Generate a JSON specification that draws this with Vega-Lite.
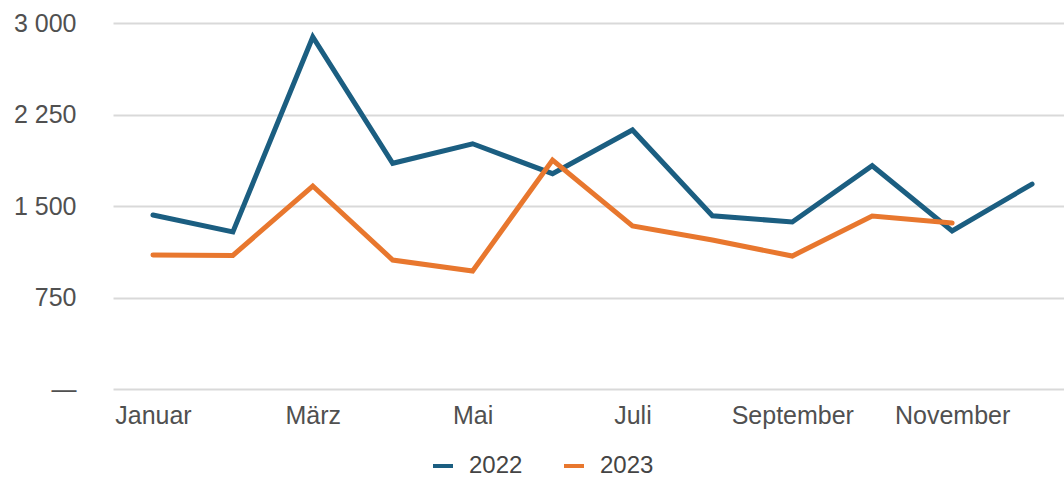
{
  "$schema": "https://vega.github.io/schema/vega-lite/v6.json",
  "autosize": {"type": "none"},
  "padding": {"left": 113, "top": 23, "right": 0, "bottom": 89},
  "width": 959,
  "height": 366,
  "background": "white",
  "config": {
    "view": {"stroke": null},
    "font": "Liberation Sans"
  },
  "data": {
    "values": [
      {"Monat": "Januar", "Jahr": "2022", "Wert": 1426},
      {"Monat": "Februar", "Jahr": "2022", "Wert": 1287},
      {"Monat": "März", "Jahr": "2022", "Wert": 2885},
      {"Monat": "April", "Jahr": "2022", "Wert": 1850},
      {"Monat": "Mai", "Jahr": "2022", "Wert": 2010},
      {"Monat": "Juni", "Jahr": "2022", "Wert": 1765},
      {"Monat": "Juli", "Jahr": "2022", "Wert": 2123},
      {"Monat": "August", "Jahr": "2022", "Wert": 1420},
      {"Monat": "September", "Jahr": "2022", "Wert": 1369},
      {"Monat": "Oktober", "Jahr": "2022", "Wert": 1830},
      {"Monat": "November", "Jahr": "2022", "Wert": 1295},
      {"Monat": "Dezember", "Jahr": "2022", "Wert": 1680},
      {"Monat": "Januar", "Jahr": "2023", "Wert": 1098},
      {"Monat": "Februar", "Jahr": "2023", "Wert": 1095},
      {"Monat": "März", "Jahr": "2023", "Wert": 1664},
      {"Monat": "April", "Jahr": "2023", "Wert": 1057},
      {"Monat": "Mai", "Jahr": "2023", "Wert": 967},
      {"Monat": "Juni", "Jahr": "2023", "Wert": 1877},
      {"Monat": "Juli", "Jahr": "2023", "Wert": 1336},
      {"Monat": "August", "Jahr": "2023", "Wert": 1221},
      {"Monat": "September", "Jahr": "2023", "Wert": 1090},
      {"Monat": "Oktober", "Jahr": "2023", "Wert": 1418},
      {"Monat": "November", "Jahr": "2023", "Wert": 1361}
    ]
  },
  "mark": {"type": "line", "strokeWidth": 5, "strokeJoin": "miter", "strokeCap": "round"},
  "encoding": {
    "x": {
      "field": "Monat",
      "type": "ordinal",
      "sort": ["Januar","Februar","März","April","Mai","Juni","Juli","August","September","Oktober","November","Dezember"],
      "scale": {"type": "point", "padding": 0.5},
      "axis": {
        "title": null,
        "values": ["Januar","März","Mai","Juli","September","November"],
        "domain": false,
        "ticks": false,
        "grid": false,
        "labelAngle": 0,
        "labelFontSize": 25,
        "labelColor": "#505050",
        "labelPadding": 14
      }
    },
    "y": {
      "field": "Wert",
      "type": "quantitative",
      "scale": {"domain": [0, 3000], "nice": false},
      "axis": {
        "title": null,
        "values": [0, 750, 1500, 2250, 3000],
        "domain": false,
        "ticks": false,
        "grid": true,
        "gridColor": "#d9d9d9",
        "gridWidth": 2,
        "labelFontSize": 25,
        "labelColor": "#505050",
        "labelPadding": 37,
        "labelExpr": "datum.value == 0 ? '—' : replace(format(datum.value, ','), ',', ' ')"
      }
    },
    "color": {
      "field": "Jahr",
      "type": "nominal",
      "scale": {"domain": ["2022", "2023"], "range": ["#1b5e81", "#e8772e"]},
      "legend": {
        "title": null,
        "orient": "none",
        "direction": "horizontal",
        "legendX": 318,
        "legendY": 431,
        "symbolType": "stroke",
        "symbolStrokeWidth": 4,
        "symbolSize": 400,
        "labelFontSize": 24,
        "labelColor": "#444444",
        "labelOffset": 14,
        "columnPadding": 33
      }
    }
  }
}
